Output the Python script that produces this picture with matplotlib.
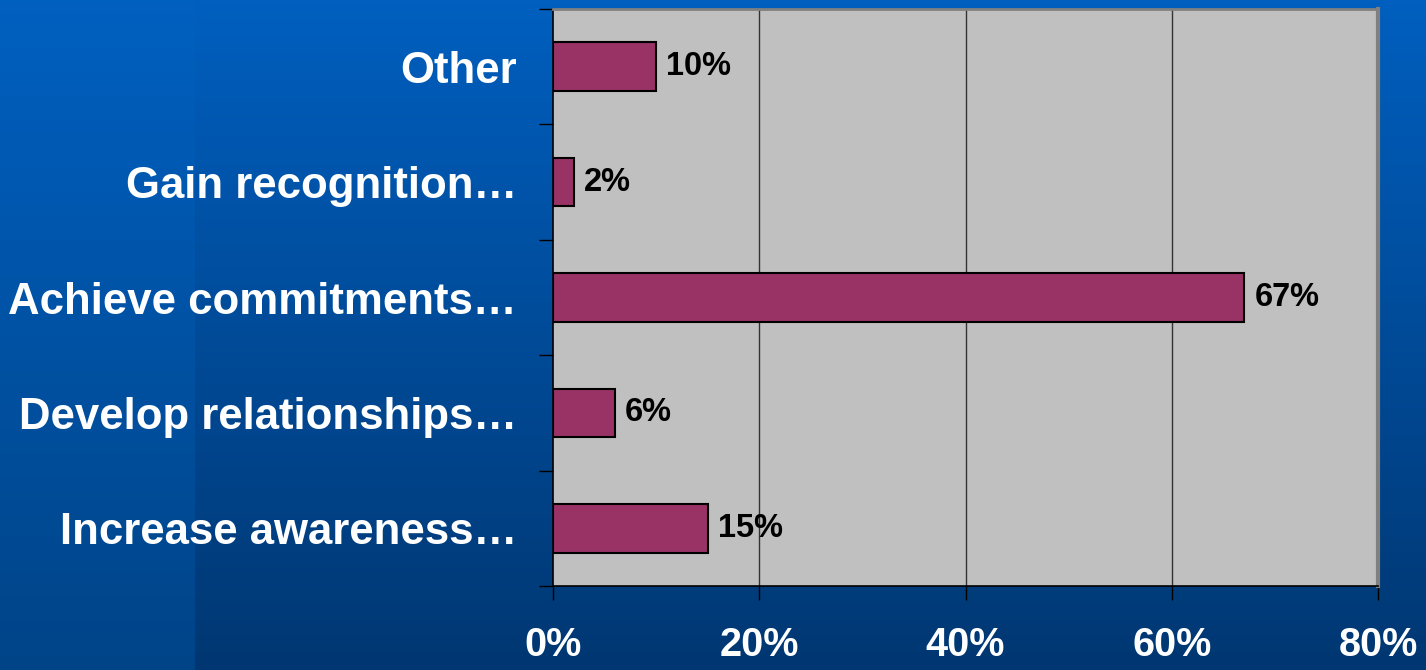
import numpy as np
import matplotlib.pyplot as plt

categories = ["Increase awareness…", "Develop relationships…", "Achieve commitments…",
              "Gain recognition…", "Other"]
values = [15, 6, 67, 2, 10]
xticks = [0, 20, 40, 60, 80]

plt.rcParams['font.family'] = ['Liberation Sans', 'DejaVu Sans']

fig = plt.figure(figsize=(14.26, 6.70), dpi=100)

# background gradient, left strip slightly lighter at bottom
bg = fig.add_axes([0, 0, 1, 1], zorder=-10)
bg.set_axis_off()
h = 200
t = np.linspace(0, 1, h)[:, None]
top_r = np.array([0x00, 0x5F, 0xBF]) / 255
bot_r = np.array([0x00, 0x37, 0x72]) / 255
top_l = np.array([0x00, 0x60, 0xC0]) / 255
bot_l = np.array([0x00, 0x44, 0x88]) / 255
w = 1426
img = np.zeros((h, w, 3))
split = 195
img[:, :split, :] = (top_l * (1 - t) + bot_l * t)[:, None, :]
img[:, split:, :] = (top_r * (1 - t) + bot_r * t)[:, None, :]
bg.imshow(img, aspect='auto', extent=[0, 1, 0, 1], interpolation='bilinear')
bg.set_xlim(0, 1)
bg.set_ylim(0, 1)

ax = fig.add_axes([553 / 1426, 84 / 670, 825 / 1426, 577 / 670])
ax.set_facecolor('#C0C0C0')

y = np.arange(len(categories))
ax.barh(y, values, height=0.42, color='#993366', edgecolor='black', linewidth=1.5, zorder=3)
for yi, v in zip(y, values):
    ax.text(v + 1.0, yi, f"{v}%", va='center', ha='left', fontsize=23.5,
            fontweight='bold', color='black', zorder=4)

ax.set_xlim(0, 80)
ax.set_ylim(-0.5, len(categories) - 0.5)
ax.set_xticks(xticks)
ax.set_xticklabels([f"{x}%" for x in xticks])
ax.set_yticks(y)
ax.set_yticklabels(categories)
ax.set_yticks(np.arange(-0.5, len(categories), 1), minor=True)

for x in xticks[1:-1]:
    ax.axvline(x, color='#333333', linewidth=1, zorder=1)

ax.tick_params(axis='y', which='major', length=0, pad=26, labelsize=31.5, labelcolor='white')
ax.tick_params(axis='y', which='minor', length=10, width=1, color='black')
ax.tick_params(axis='x', which='major', length=10, width=1, color='black', pad=19,
               labelsize=28.5, labelcolor='white')
for lab in ax.get_yticklabels() + ax.get_xticklabels():
    lab.set_fontweight('bold')

ax.spines['left'].set_color('black')
ax.spines['bottom'].set_color('black')
ax.spines['left'].set_linewidth(1.2)
ax.spines['bottom'].set_linewidth(1.2)
ax.spines['top'].set_color('#808080')
ax.spines['right'].set_color('#808080')
ax.spines['top'].set_linewidth(2)
ax.spines['right'].set_linewidth(3)

fig.savefig('out.png', dpi=100)
